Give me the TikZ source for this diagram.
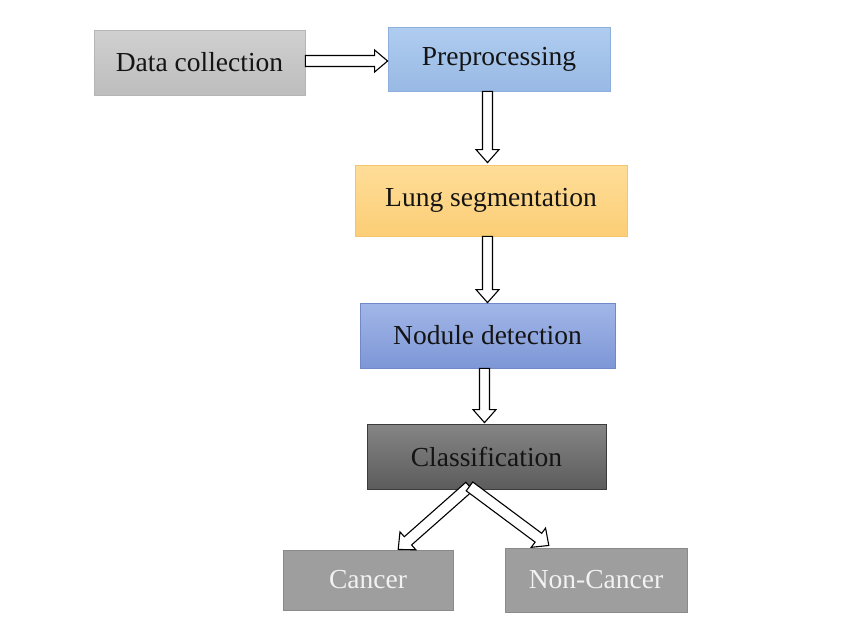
\documentclass[tikz,border=0pt]{standalone}
\usepackage{fontspec}
\setmainfont{Liberation Serif}
\usetikzlibrary{calc}
\definecolor{txt}{HTML}{141414}
\definecolor{dcT}{HTML}{D0D0D0}\definecolor{dcB}{HTML}{BDBDBD}\definecolor{dcD}{HTML}{B5B5B5}
\definecolor{ppT}{HTML}{B0CDF0}\definecolor{ppB}{HTML}{98B9E4}\definecolor{ppD}{HTML}{8EAEDC}
\definecolor{lsT}{HTML}{FEDD98}\definecolor{lsB}{HTML}{FCCE76}\definecolor{lsD}{HTML}{F2C56E}
\definecolor{ndT}{HTML}{A2B7E8}\definecolor{ndB}{HTML}{7D96D6}\definecolor{ndD}{HTML}{7088C8}
\definecolor{clT}{HTML}{858585}\definecolor{clB}{HTML}{5C5C5C}\definecolor{clD}{HTML}{3C3C3C}
\definecolor{gyF}{HTML}{9E9E9E}\definecolor{gyD}{HTML}{8A8A8A}\definecolor{gyT}{HTML}{F2F2F2}
\tikzset{
  box/.style={rectangle, inner sep=0pt, line width=0.8pt, font=\fontsize{27.5}{32}\selectfont, text=txt},
  blockarr/.style={draw=black, fill=white, line width=1.1pt, line join=miter},
}
\newcommand\blockarrow[4]{% from, to, shaft half width, head half width
  \draw[blockarr] let \p1=($(#2)-(#1)$), \n1={atan2(\y1,\x1)}, \n2={veclen(\x1,\y1)} in
    [shift={(#1)}, rotate=\n1]
    (0,-#3) -- (\n2-13,-#3) -- (\n2-13,-#4) -- (\n2,0) -- (\n2-13,#4) -- (\n2-13,#3) -- (0,#3) -- cycle;}
\begin{document}
\begin{tikzpicture}[x=1pt,y=1pt]
\useasboundingbox[fill=white] (0,0) rectangle (850,-622);
\node[box, draw=dcD, top color=dcT, bottom color=dcB, minimum width=211, minimum height=65] (dc) at (199.5,-62.5) {Data collection};
\node[box, draw=ppD, top color=ppT, bottom color=ppB, minimum width=222, minimum height=64] (pp) at (499,-59) {Preprocessing};
\node[box, draw=lsD, top color=lsT, bottom color=lsB, minimum width=272, minimum height=71] (ls) at (491,-200.5) {Lung segmentation};
\node[box, draw=ndD, top color=ndT, bottom color=ndB, minimum width=255, minimum height=65] (nd) at (487.5,-335.5) {Nodule detection};
\node[box, draw=clD, top color=clT, bottom color=clB, minimum width=239, minimum height=65] (cl) at (486.5,-456.5) {Classification};
\node[box, draw=gyD, fill=gyF, text=gyT, minimum width=170, minimum height=60] (ca) at (368,-580) {Cancer};
\node[box, draw=gyD, fill=gyF, text=gyT, minimum width=182, minimum height=64] (nc) at (596,-580) {Non-Cancer};
\coordinate (fork) at ($(cl.south)+(-17,3)$);
\coordinate (caTip) at ($(ca.north)+(30,0)$);
\coordinate (ncTip) at ($(nc.north)+(-47,2)$);
\blockarrow{$(dc.east)+(0,1.5)$}{$(dc.east -| pp.west)+(0,1.5)$}{5.5}{11}
\blockarrow{pp.south -| nd.north}{$(ls.north -| nd.north)+(0,2)$}{5}{11.5}
\blockarrow{ls.south -| nd.north}{nd.north}{5}{11.5}
\blockarrow{$(nd.south -| cl.north)+(-2,0)$}{$(cl.north)+(-2,1)$}{5}{11.5}
\blockarrow{fork}{caTip}{5.5}{12}
\blockarrow{fork}{ncTip}{5.5}{12}
\end{tikzpicture}
\end{document}
